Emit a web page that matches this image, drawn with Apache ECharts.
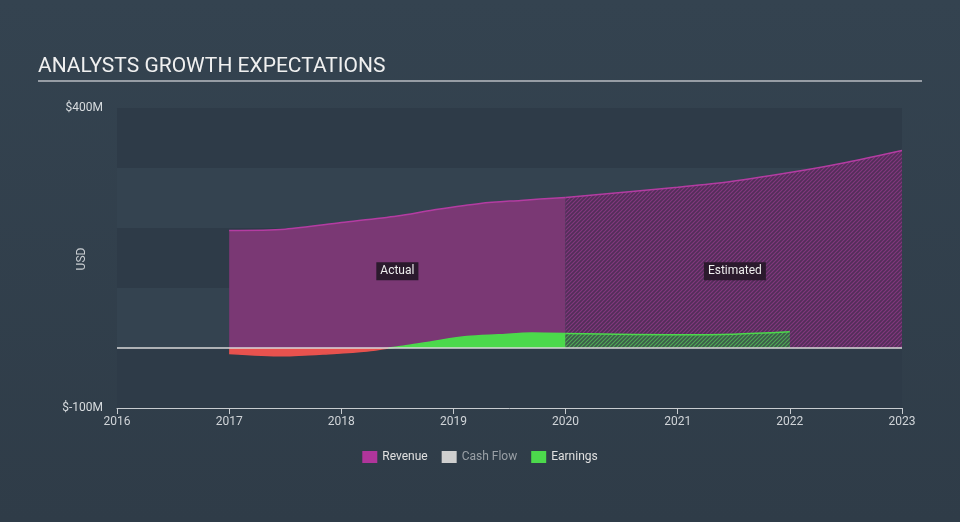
<!DOCTYPE html>
<html><head><meta charset="utf-8">
<script src="https://cdn.jsdelivr.net/npm/echarts@6/dist/echarts.min.js"></script>
<style>html,body{margin:0;padding:0;background:linear-gradient(180deg,#344350 0%,#2f3c48 100%);}#c{width:960px;height:522px;}</style>
</head><body><div id="c"></div>
<script>
// ---- data (USD millions, x = fractional year) ----
const yearTicks = [2016, 2017, 2018, 2019, 2020, 2021, 2022, 2023];
const revenueActual = [[2017.0,196],[2017.5,198],[2018.0,209],[2018.5,220],[2018.82,230],[2019.24,241],[2019.6,246],[2020.0,251]];
const revenueEstimated = [[2020.0,251],[2021.0,268],[2021.46,277],[2022.15,297],[2022.5,309],[2023.0,329]];
const earningsActual = [[2017.0,-9],[2017.48,-13],[2017.93,-9],[2018.23,-5],[2018.42,0],[2018.55,3],[2018.82,11],[2019.12,19],[2019.4,22],[2019.7,25],[2020.0,24]];
const earningsEstimated = [[2020.0,24],[2021.0,22],[2021.5,23],[2022.0,27]];
const legendNames = ['Revenue','Cash Flow','Earnings'];

function hatch(bg, stripe) {
  const s = 4;
  const c = document.createElement('canvas');
  c.width = s; c.height = s;
  const g = c.getContext('2d');
  g.fillStyle = bg; g.fillRect(0,0,s,s);
  g.strokeStyle = stripe; g.lineWidth = 1.2;
  g.beginPath();
  g.moveTo(-1,s+1); g.lineTo(s+1,-1);
  g.moveTo(-1,1); g.lineTo(1,-1);
  g.moveTo(s-1,s+1); g.lineTo(s+1,s-1);
  g.stroke();
  return {image: c, repeat: 'repeat'};
}

const earnNeg = earningsActual.filter(p => p[0] <= 2018.42);
const earnPos = earningsActual.filter(p => p[0] >= 2018.42);

const chart = echarts.init(document.getElementById('c'), null, {renderer:'canvas'});
chart.setOption({
  backgroundColor: 'transparent',
  animation: false,
  textStyle: {fontFamily: 'Roboto, sans-serif'},
  graphic: [
    {type:'text', left:38, top:56, style:{text:'ANALYSTS GROWTH EXPECTATIONS', fill:'#f0f0f0', font:'21px Roboto, sans-serif'}},
    {type:'line', shape:{x1:38,y1:81,x2:922,y2:81}, style:{stroke:'#b8bcc2', lineWidth:1.5}},
    {type:'text', x:82, y:259, rotation:Math.PI/2, style:{text:'USD', fill:'#c8ccd0', font:'12px Roboto, sans-serif', align:'center', verticalAlign:'middle'}}
  ],
  legend: {
    bottom: 54, left: 'center', itemWidth: 15, itemHeight: 12, itemGap: 14, icon: 'rect',
    textStyle: {color:'#e0e0e0', fontSize: 12},
    data: [
      {name:'Revenue'},
      {name:'Cash Flow', textStyle:{color:'#9aa0a6'}},
      {name:'Earnings'}
    ]
  },
  grid: {left:117, right:58, top:108, bottom:114},
  xAxis: {
    type:'value', min:2016, max:2023, interval:1,
    axisLine:{show:true, onZero:false, lineStyle:{color:'#c8ccd0', width:1}},
    axisTick:{show:true, length:6, lineStyle:{color:'#c8ccd0'}},
    axisLabel:{color:'#d0d4d8', fontSize:12, margin:8, formatter: v => String(v)},
    splitLine:{show:false}
  },
  yAxis: {
    type:'value', min:-100, max:400, interval:100,
    axisLine:{show:false}, axisTick:{show:false},
    axisLabel:{color:'#d8dcdf', fontSize:12, margin:14, formatter: v => (v===400 ? '$400M' : v===-100 ? '$-100M' : '')},
    splitLine:{show:false},
    splitArea:{show:true, areaStyle:{color:['#2e3b48','#344350']}}
  },
  series: [
    {name:'Revenue', type:'line', data: revenueActual, smooth:0.3, symbol:'none', color:'#b0359b',
     lineStyle:{color:'#b43ca2', width:1.5}, areaStyle:{color:'#7a3874', opacity:1}, z:2,
     markPoint:{symbol:'rect', symbolSize:0,
       label:{show:true, position:'inside', formatter:'{b}', color:'#eeeeee', fontSize:12, backgroundColor:'#2b1a2d', padding:[3,4]},
       data:[{name:'Actual', coord:[2018.5,128]}]},
     markLine:{silent:true, symbol:'none', label:{show:false}, lineStyle:{color:'#d8d8d8', width:1.5, type:'solid'}, data:[{yAxis:0}], z:10}
    },
    {name:'Revenue', type:'line', data: revenueEstimated, smooth:0.3, symbol:'none', color:'#b0359b',
     lineStyle:{color:'#b43ca2', width:1.5}, areaStyle:{color: hatch('#522e59','#82387e'), opacity:1}, z:2,
     markPoint:{symbol:'rect', symbolSize:0,
       label:{show:true, position:'inside', formatter:'{b}', color:'#eeeeee', fontSize:12, backgroundColor:'#2b1a2d', padding:[3,4]},
       data:[{name:'Estimated', coord:[2021.51,128]}]}
    },
    {name:'Cash Flow', type:'line', data: [], color:'#cfcfcf', symbol:'none'},
    {name:'Earnings', type:'line', data: earnNeg, smooth:0.3, symbol:'none', color:'#4cd94c',
     lineStyle:{color:'#e8524e', width:1.5}, areaStyle:{color:'#e8524e', opacity:1}, z:3},
    {name:'Earnings', type:'line', data: earnPos, smooth:0.3, symbol:'none', color:'#4cd94c',
     lineStyle:{color:'#4cd94c', width:1.5}, areaStyle:{color:'#4cd94c', opacity:1}, z:3},
    {name:'Earnings', type:'line', data: earningsEstimated, smooth:0.3, symbol:'none', color:'#4cd94c',
     lineStyle:{color:'#4cd94c', width:1.5}, areaStyle:{color: hatch('#3c5a4a','#4fa855'), opacity:1}, z:3}
  ]
});
</script></body></html>
